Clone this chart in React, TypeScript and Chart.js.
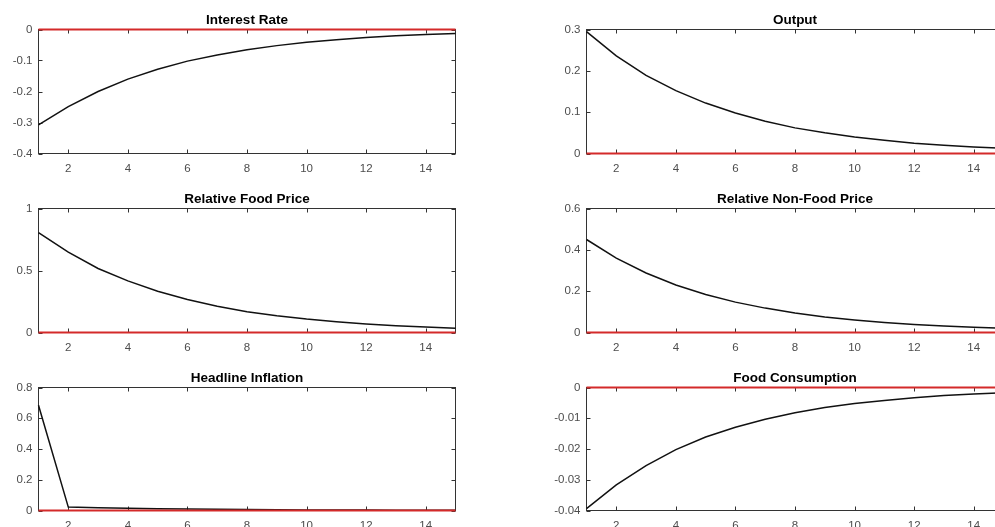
import React, { useEffect, useRef } from "react";
import { Chart, registerables } from "chart.js";

Chart.register(...registerables);

// ---------- data ----------
const PERIODS = [1, 2, 3, 4, 5, 6, 7, 8, 9, 10, 11, 12, 13, 14, 15];
const X_TICKS = [2, 4, 6, 8, 10, 12, 14];
const ZERO_LINE = [0, 0, 0, 0, 0, 0, 0, 0, 0, 0, 0, 0, 0, 0, 0];

const INTEREST_RATE = [-0.308, -0.249, -0.2, -0.16, -0.128, -0.102, -0.082, -0.065, -0.052, -0.041, -0.033, -0.026, -0.02, -0.016, -0.013];
const OUTPUT = [0.295, 0.236, 0.189, 0.152, 0.122, 0.098, 0.078, 0.062, 0.05, 0.04, 0.032, 0.025, 0.02, 0.016, 0.013];
const FOOD_PRICE = [0.806, 0.648, 0.516, 0.416, 0.332, 0.266, 0.212, 0.168, 0.135, 0.108, 0.087, 0.069, 0.055, 0.044, 0.035];
const NONFOOD_PRICE = [0.45, 0.36, 0.288, 0.23, 0.184, 0.147, 0.118, 0.094, 0.075, 0.06, 0.048, 0.039, 0.031, 0.025, 0.02];
const HEADLINE_INFLATION = [0.685, 0.022, 0.018, 0.015, 0.012, 0.01, 0.008, 0.006, 0.005, 0.004, 0.003, 0.003, 0.002, 0.002, 0.001];
const FOOD_CONSUMPTION = [-0.0394, -0.0317, -0.0254, -0.0202, -0.0161, -0.0129, -0.0103, -0.0082, -0.0065, -0.0052, -0.0042, -0.0033, -0.0026, -0.0021, -0.0017];

const INTEREST_TICKS = [-0.4, -0.3, -0.2, -0.1, 0];
const OUTPUT_TICKS = [0, 0.1, 0.2, 0.3];
const FOOD_PRICE_TICKS = [0, 0.5, 1];
const NONFOOD_PRICE_TICKS = [0, 0.2, 0.4, 0.6];
const HEADLINE_TICKS = [0, 0.2, 0.4, 0.6, 0.8];
const FOOD_CONS_TICKS = [-0.04, -0.03, -0.02, -0.01, 0];

// ---------- layout ----------
type Panel = {
  title: string;
  values: number[];
  yTicks: number[];
  col: number;
  row: number;
};

const PANELS: Panel[] = [
  { title: "Interest Rate", values: INTEREST_RATE, yTicks: INTEREST_TICKS, col: 0, row: 0 },
  { title: "Output", values: OUTPUT, yTicks: OUTPUT_TICKS, col: 1, row: 0 },
  { title: "Relative Food Price", values: FOOD_PRICE, yTicks: FOOD_PRICE_TICKS, col: 0, row: 1 },
  { title: "Relative Non-Food Price", values: NONFOOD_PRICE, yTicks: NONFOOD_PRICE_TICKS, col: 1, row: 1 },
  { title: "Headline Inflation", values: HEADLINE_INFLATION, yTicks: HEADLINE_TICKS, col: 0, row: 2 },
  { title: "Food Consumption", values: FOOD_CONSUMPTION, yTicks: FOOD_CONS_TICKS, col: 1, row: 2 },
];

// canvas left, plot left, plot right
const COLS = [
  { cl: 0, left: 38.5, right: 455.5 },
  { cl: 548, left: 586.5, right: 1003.5 },
];
// canvas top, canvas height, plot top, plot bottom
const ROWS = [
  { ct: 0, ch: 175, top: 29.5, bottom: 153.5 },
  { ct: 175, ch: 178, top: 208.5, bottom: 332.5 },
  { ct: 353, ch: 174, top: 387.5, bottom: 510.5 },
];
const CANVAS_W = 470;

const FONT = "'Liberation Sans', Arial, Helvetica, sans-serif";
const AXIS_COLOR = "#333333";
const LABEL_COLOR = "#4d4d4d";

const fmt = (v: number | string) => String(+Number(v).toFixed(4));

const framePlugin = {
  id: "frame",
  beforeDatasetsDraw(chart: any) {
    const { ctx, chartArea: a, scales } = chart;
    ctx.save();
    ctx.strokeStyle = AXIS_COLOR;
    ctx.lineWidth = 1;
    ctx.strokeRect(a.left, a.top, a.right - a.left, a.bottom - a.top);
    const tl = 4;
    ctx.beginPath();
    scales.x.ticks.forEach((t: any) => {
      const px = Math.round(scales.x.getPixelForValue(t.value)) + 0.5;
      ctx.moveTo(px, a.bottom);
      ctx.lineTo(px, a.bottom - tl);
      ctx.moveTo(px, a.top);
      ctx.lineTo(px, a.top + tl);
    });
    scales.y.ticks.forEach((t: any) => {
      const py = Math.round(scales.y.getPixelForValue(t.value)) + 0.5;
      ctx.moveTo(a.left, py);
      ctx.lineTo(a.left + tl, py);
      ctx.moveTo(a.right, py);
      ctx.lineTo(a.right - tl, py);
    });
    ctx.stroke();
    ctx.restore();
  },
  afterDraw(chart: any, _args: any, opts: any) {
    const { ctx, chartArea: a } = chart;
    ctx.save();
    ctx.fillStyle = "#000";
    ctx.font = `bold 13.5px ${FONT}`;
    ctx.textAlign = "center";
    ctx.textBaseline = "alphabetic";
    ctx.fillText(opts.title, (a.left + a.right) / 2, a.top - 6);
    ctx.restore();
  },
};

function PanelChart({ p }: { p: Panel }) {
  const ref = useRef<HTMLCanvasElement | null>(null);
  const c = COLS[p.col];
  const r = ROWS[p.row];
  useEffect(() => {
    if (!ref.current) return;
    const yw = c.left - c.cl;
    const xh = r.ct + r.ch - r.bottom;
    const chart = new Chart(ref.current, {
      type: "line",
      data: {
        datasets: [
          {
            data: PERIODS.map((x, i) => ({ x, y: ZERO_LINE[i] })),
            borderColor: "#d42a2a",
            borderWidth: 1.8,
            pointRadius: 0,
            tension: 0,
            clip: false as any,
            order: 0,
          },
          {
            data: PERIODS.map((x, i) => ({ x, y: p.values[i] })),
            borderColor: "#111111",
            borderWidth: 1.5,
            pointRadius: 0,
            tension: 0,
            clip: false as any,
            order: 1,
          },
        ],
      },
      options: {
        animation: false,
        responsive: false,
        maintainAspectRatio: false,
        devicePixelRatio: 1,
        events: [],
        layout: {
          padding: { left: 0, top: r.top - r.ct, right: c.cl + CANVAS_W - c.right, bottom: 0 },
        },
        plugins: {
          legend: { display: false },
          tooltip: { enabled: false },
          title: { display: false },
          frame: { title: p.title },
        } as any,
        scales: {
          x: {
            type: "linear",
            min: 1,
            max: 15,
            grid: { display: false, drawTicks: false },
            border: { display: false },
            ticks: {
              color: LABEL_COLOR,
              font: { family: FONT, size: 11.5 },
              padding: 8,
              maxRotation: 0,
              autoSkip: false,
              callback: (v: any) => fmt(v),
            },
            afterBuildTicks: (s: any) => {
              s.ticks = X_TICKS.map((v) => ({ value: v }));
            },
            afterFit: (s: any) => {
              s.height = xh;
            },
          },
          y: {
            type: "linear",
            min: p.yTicks[0],
            max: p.yTicks[p.yTicks.length - 1],
            grid: { display: false, drawTicks: false },
            border: { display: false },
            ticks: {
              color: LABEL_COLOR,
              font: { family: FONT, size: 11.5 },
              padding: 6,
              autoSkip: false,
              callback: (v: any) => fmt(v),
            },
            afterBuildTicks: (s: any) => {
              s.ticks = p.yTicks.map((v) => ({ value: v }));
            },
            afterFit: (s: any) => {
              s.width = yw;
            },
          },
        },
      },
      plugins: [framePlugin as any],
    });
    return () => chart.destroy();
  }, []);
  return (
    <canvas
      ref={ref}
      width={CANVAS_W}
      height={r.ch}
      style={{ position: "absolute", left: c.cl, top: r.ct, width: CANVAS_W, height: r.ch }}
    />
  );
}

export default function App() {
  return (
    <div
      style={{
        position: "fixed",
        left: 0,
        top: 0,
        width: 995,
        height: 527,
        overflow: "hidden",
        background: "#ffffff",
      }}
    >
      {PANELS.map((p) => (
        <PanelChart key={p.title} p={p} />
      ))}
    </div>
  );
}
